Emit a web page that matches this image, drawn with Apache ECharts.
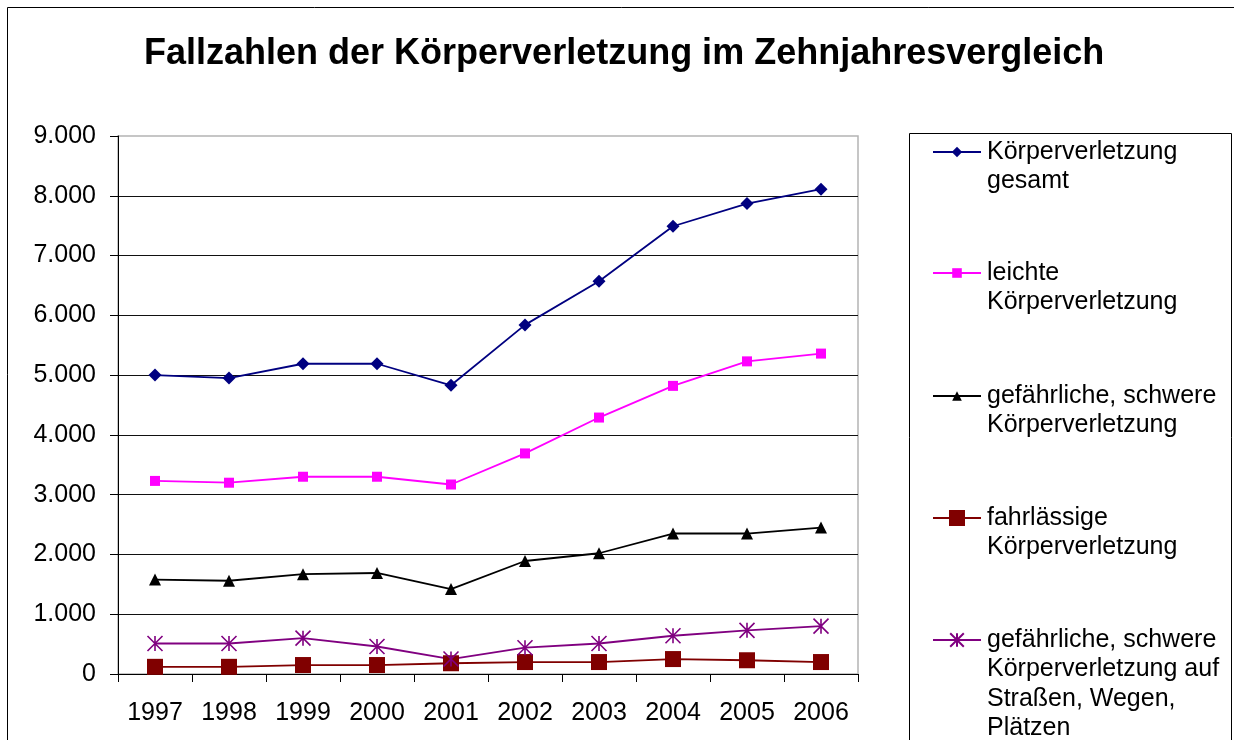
<!DOCTYPE html>
<html>
<head>
<meta charset="utf-8">
<script src="https://cdn.jsdelivr.net/npm/echarts@6/dist/echarts.min.js"></script>
<style>
html, body { margin: 0; padding: 0; background: #fff; }
#main { width: 1234px; height: 740px; }
</style>
</head>
<body>
<div id="main"></div>
<script>
var years = ['1997', '1998', '1999', '2000', '2001', '2002', '2003', '2004', '2005', '2006'];
var gesamt = [5000, 4950, 5190, 5190, 4830, 5840, 6570, 7490, 7870, 8110];
var leicht = [3230, 3200, 3300, 3300, 3170, 3690, 4290, 4820, 5230, 5360];
var schwer = [1580, 1560, 1670, 1690, 1420, 1890, 2020, 2350, 2350, 2450];
var fahrlaessig = [120, 120, 150, 150, 180, 200, 200, 250, 230, 200];
var strassen = [510, 510, 600, 460, 250, 440, 510, 640, 730, 800];
var seriesNames = [
    'Körperverletzung\ngesamt',
    'leichte\nKörperverletzung',
    'gefährliche, schwere\nKörperverletzung',
    'fahrlässige\nKörperverletzung',
    'gefährliche, schwere\nKörperverletzung auf\nStraßen, Wegen,\nPlätzen'
];

var FONT = '"Liberation Sans", Arial, sans-serif';
var LINE_H = 29.5;

function thousands(v) {
    return String(v).replace(/\B(?=(\d{3})+(?!\d))/g, '.');
}

// one legend per entry, so the icon sits on the first text line
function legendEntry(name, iconY, iconH) {
    var n = name.split('\n').length;
    return {
        data: [name],
        orient: 'vertical',
        left: 932,
        top: iconY - (2 * n - 1) * LINE_H / 2,
        padding: 0,
        itemWidth: 48,
        itemHeight: iconH,
        selectedMode: false,
        formatter: function (s) {
            return '\n'.repeat(s.split('\n').length - 1) + s;
        },
        textStyle: {
            fontFamily: FONT,
            fontSize: 25,
            lineHeight: LINE_H,
            color: '#000',
            padding: [0, 0, 0, 1]
        }
    };
}

function lineSeries(name, data, color, symbol, size, width) {
    return {
        name: name,
        type: 'line',
        data: data,
        symbol: symbol,
        symbolSize: size,
        lineStyle: { color: color, width: width },
        itemStyle: { color: color },
        emphasis: { disabled: true }
    };
}

var chart = echarts.init(document.getElementById('main'));

var asterisk = lineSeries(seriesNames[4], strassen, '#800080',
    'path://M0 0L10 10M10 0L0 10M5 0L5 10', 15, 1.8);
asterisk.itemStyle = { color: '#800080', borderColor: '#800080', borderWidth: 1.6 };

var option = {
    animation: false,
    backgroundColor: '#fff',
    title: {
        text: 'Fallzahlen der Körperverletzung im Zehnjahresvergleich',
        left: 144,
        top: 36,
        padding: 0,
        textStyle: { fontFamily: FONT, fontSize: 36, fontWeight: 'bold', color: '#000' }
    },
    graphic: [
        {
            type: 'rect', silent: true, z: -10,
            shape: { x: 7.5, y: 7.5, width: 1250, height: 760 },
            style: { fill: null, stroke: '#000', lineWidth: 1 }
        },
        {
            type: 'rect', silent: true, z: -10,
            shape: { x: 909.5, y: 133.5, width: 322, height: 640 },
            style: { fill: null, stroke: '#000', lineWidth: 1 }
        }
    ],
    legend: [
        legendEntry(seriesNames[0], 152, 13),
        legendEntry(seriesNames[1], 273, 12),
        legendEntry(seriesNames[2], 396, 12),
        legendEntry(seriesNames[3], 518, 20),
        legendEntry(seriesNames[4], 640, 17)
    ],
    grid: {
        left: 118,
        right: 376,
        top: 136,
        bottom: 66,
        show: true,
        backgroundColor: '#fff',
        borderColor: '#b4b4b4',
        borderWidth: 1.5
    },
    xAxis: {
        type: 'category',
        data: years,
        boundaryGap: true,
        axisLine: { lineStyle: { color: '#000', width: 1 } },
        axisTick: { show: true, length: 8, lineStyle: { color: '#000' } },
        axisLabel: { fontFamily: FONT, fontSize: 25, color: '#000', margin: 27 },
        splitLine: { show: false }
    },
    yAxis: {
        type: 'value',
        min: 0,
        max: 9000,
        interval: 1000,
        axisLine: { show: true, lineStyle: { color: '#000', width: 1 } },
        axisTick: { show: true, length: 8, lineStyle: { color: '#000' } },
        axisLabel: { fontFamily: FONT, fontSize: 25, color: '#000', margin: 22, formatter: thousands },
        splitLine: { show: true, showMaxLine: false, lineStyle: { color: '#111', width: 1 } }
    },
    series: [
        lineSeries(seriesNames[0], gesamt, '#000080', 'diamond', 13, 1.8),
        lineSeries(seriesNames[1], leicht, '#ff00ff', 'rect', 10, 1.8),
        lineSeries(seriesNames[2], schwer, '#000000', 'triangle', 12, 1.8),
        lineSeries(seriesNames[3], fahrlaessig, '#800000', 'rect', 16, 1.8),
        asterisk
    ]
};

chart.setOption(option);
</script>
</body>
</html>
